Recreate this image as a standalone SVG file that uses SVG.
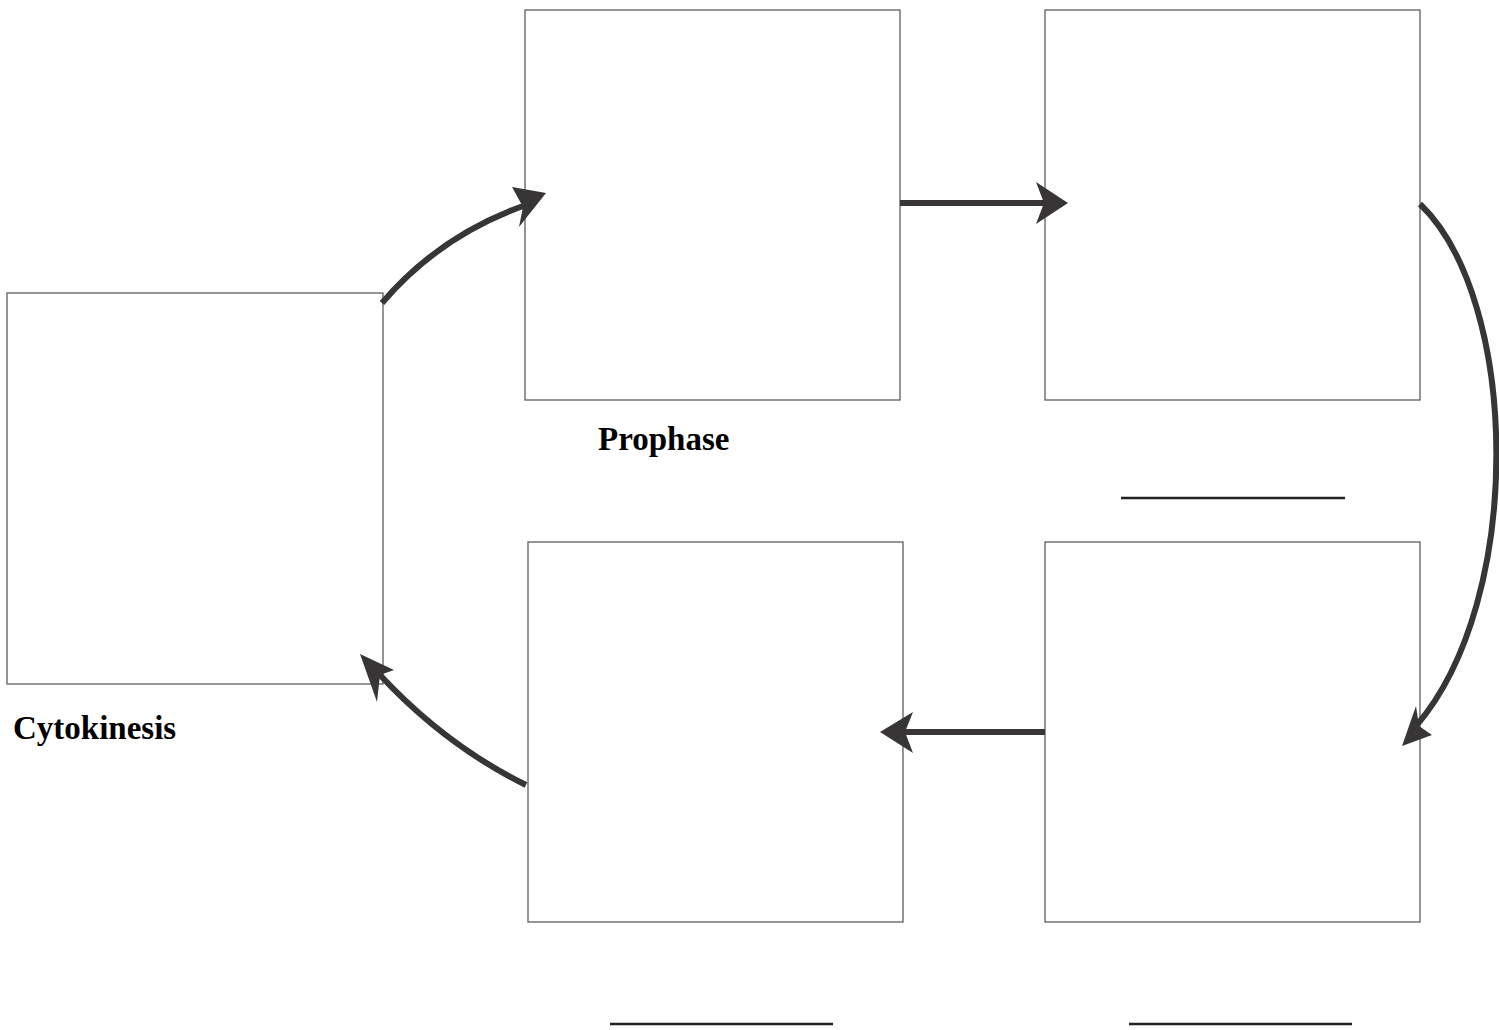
<svg xmlns="http://www.w3.org/2000/svg" width="1499" height="1030" viewBox="0 0 1499 1030">
<style>
.box{fill:#fff;stroke:#5e5e5e;stroke-width:1.3}
.arr{fill:none;stroke:#373535;stroke-width:6}
.head{fill:#373535}
.lbl{font-family:"Liberation Serif",serif;font-weight:bold;font-size:33px;fill:#000}
.blank{stroke:#222;stroke-width:2.5}
</style>
<rect width="1499" height="1030" fill="#fff"/>
<g id="cytokinesis"><rect class="box" x="7" y="293" width="376" height="391"/><text class="lbl" x="13" y="739">Cytokinesis</text></g>
<g id="prophase"><rect class="box" x="525" y="10" width="375" height="390"/><text class="lbl" x="598" y="450">Prophase</text></g>
<g id="stage2"><rect class="box" x="1045" y="10" width="375" height="390"/><line class="blank" x1="1121" y1="498" x2="1345" y2="498"/></g>
<g id="stage3"><rect class="box" x="1045" y="542" width="375" height="380"/><line class="blank" x1="1129" y1="1024" x2="1352" y2="1024"/></g>
<g id="stage4"><rect class="box" x="528" y="542" width="375" height="380"/><line class="blank" x1="610" y1="1024" x2="833" y2="1024"/></g>
<g id="connectors">
<path class="arr" d="M382,303 Q440,235 526,205"/>
<polygon class="head" points="546,193 512,187 523,207 519,227"/>
<path class="arr" d="M900,203 L1045,203"/>
<polygon class="head" points="1068,203 1036,182 1044,203 1036,224"/>
<path class="arr" d="M1420,204 C1520,300 1525,600 1416,726"/>
<polygon class="head" points="1402,746 1416,706 1419,726 1432,735"/>
<path class="arr" d="M1045,732 L905,732"/>
<polygon class="head" points="880,732 913,712 905,732 913,753"/>
<path class="arr" d="M526,785 Q445,745 380,675"/>
<polygon class="head" points="360,654 394,670 380,675 377,702"/>
</g>
</svg>
